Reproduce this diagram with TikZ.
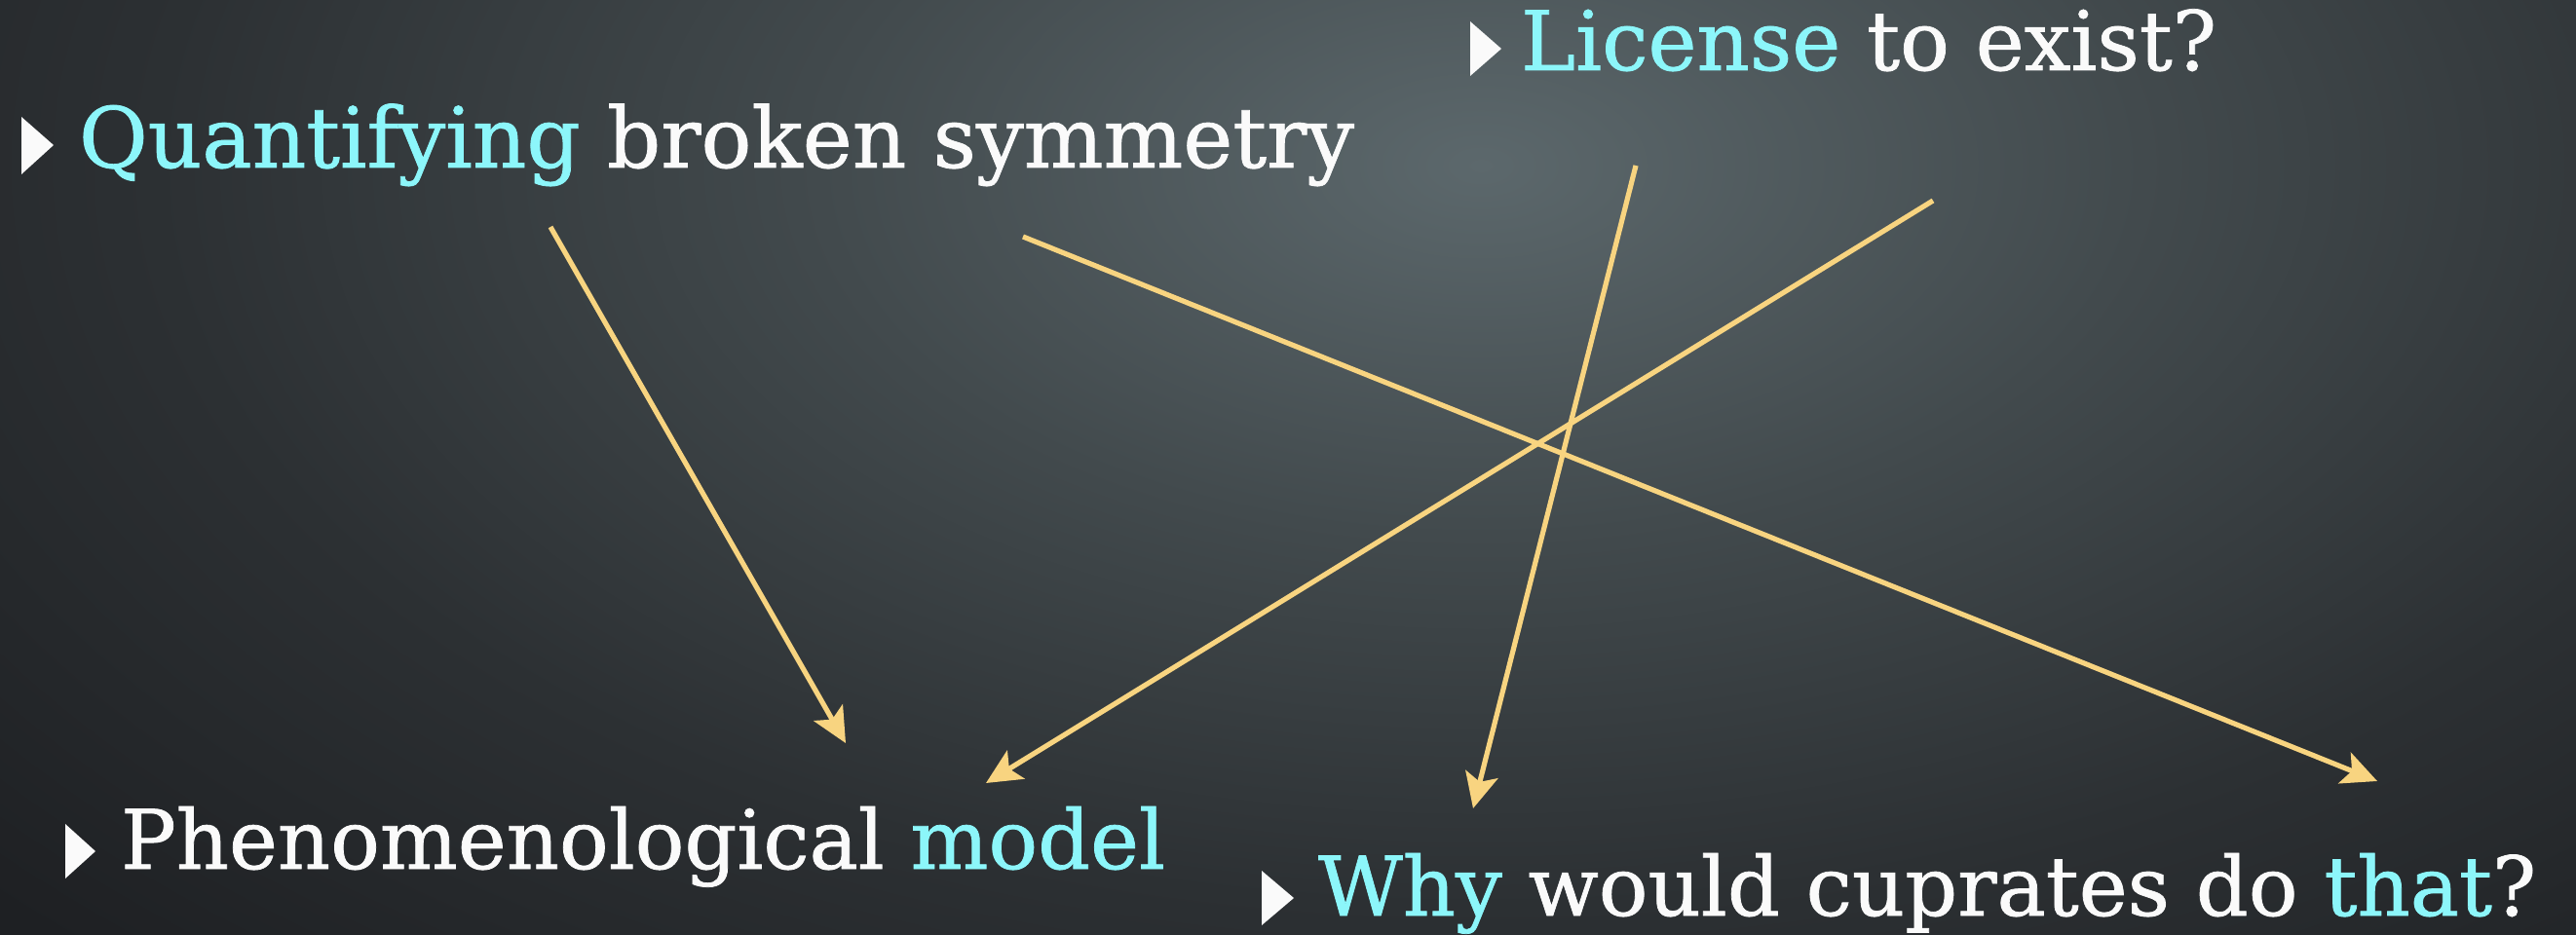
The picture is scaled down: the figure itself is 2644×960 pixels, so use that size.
\documentclass[tikz,border=0pt]{standalone}
\usepackage{fontspec}
\setmainfont{DejaVu Serif}[FakeBold=0.9]
\usetikzlibrary{arrows.meta}
\definecolor{hl}{RGB}{140,246,250}
\definecolor{txt}{RGB}{250,250,250}
\definecolor{arr}{RGB}{248,212,128}
\definecolor{bgc}{RGB}{92,104,108}
\definecolor{bga}{RGB}{66,74,77}
\definecolor{bgm}{RGB}{44,48,51}
\definecolor{bgb}{RGB}{30,32,35}
\definecolor{bgd}{RGB}{22,23,26}
\definecolor{bgo}{RGB}{18,19,22}
\pgfdeclareradialshading{bgshade}{\pgfpoint{0bp}{0bp}}{color(0bp)=(bgc); color(10bp)=(bga); color(20bp)=(bgm); color(30bp)=(bgb); color(40bp)=(bgd); color(50bp)=(bgo)}
\tikzset{
  bullet/.style={fill=txt},
  line/.style={anchor=base west, inner sep=0pt, outer sep=0pt, text=txt},
  conn/.style={draw=arr, line width=1.3pt, -{Stealth[length=9pt, width=8.5pt, inset=2pt]}}
}
\newcommand{\hlt}[1]{\textcolor{hl}{#1}}
\begin{document}
\begin{tikzpicture}[x=0.25pt, y=-0.25pt]
\useasboundingbox (0,0) rectangle (2644,960);
\begin{scope}
\clip (0,0) rectangle (2644,960);
\fill[bgo] (0,0) rectangle (2644,960);
\shade[shading=bgshade] (1520-1700,170-950) rectangle (1520+1700,170+950);
\end{scope}
% bullets
\fill[bullet] (22,120) -- (55,149) -- (22,179) -- cycle;
\fill[bullet] (1509,22) -- (1541,50) -- (1509,78) -- cycle;
\fill[bullet] (67,846) -- (98,874) -- (67,902) -- cycle;
\fill[bullet] (1295,894) -- (1328,922) -- (1295,950) -- cycle;
% texts
\node[line] (q) at (81,172) {\resizebox{327.25pt}{!}{\hlt{Quantifying} broken symmetry}};
\node[line] (l) at (1561,72) {\resizebox{178.5pt}{!}{\hlt{License} to exist?}};
\node[line] (p) at (124,892) {\resizebox{268pt}{!}{Phenomenological \hlt{model}}};
\node[line] (w) at (1353,940) {\resizebox{312.5pt}{!}{\hlt{Why} would cuprates do \hlt{that}?}};
% connectors
\coordinate (a1s) at (565,233);
\coordinate (a1e) at (868,763);
\coordinate (a2s) at (1050,243);
\coordinate (a2e) at (2440,802);
\coordinate (a3s) at (1679,170);
\coordinate (a3e) at (1512,830);
\coordinate (a4s) at (1984,206);
\coordinate (a4e) at (1012,804);
\draw[conn] (a1s) -- (a1e);
\draw[conn] (a2s) -- (a2e);
\draw[conn] (a3s) -- (a3e);
\draw[conn] (a4s) -- (a4e);
\end{tikzpicture}
\end{document}
